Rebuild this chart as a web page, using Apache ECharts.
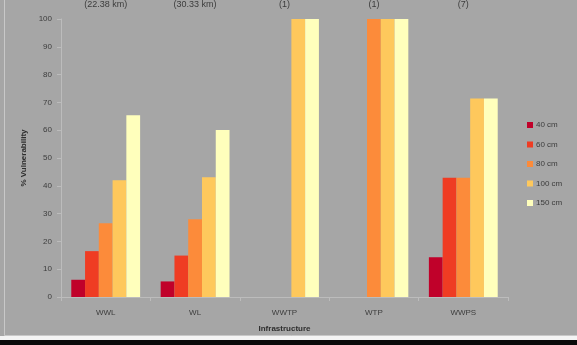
<!DOCTYPE html>
<html>
<head>
<meta charset="utf-8">
<style>
  html, body { margin: 0; padding: 0; background: #a6a6a6; }
  #chart { width: 577px; height: 345px; }
</style>
<script src="https://cdn.jsdelivr.net/npm/echarts@6/dist/echarts.min.js"></script>
</head>
<body>
<div id="chart"></div>
<script>
// Infrastructure categories and the extent/count noted above each group
const categories = ['WWL', 'WL', 'WWTP', 'WTP', 'WWPS'];
const extentLabels = ['(22.38 km)', '(30.33 km)', '(1)', '(1)', '(7)'];

// Scenario names (sea level rise) and % vulnerability per category
const seriesNames = ['40 cm', '60 cm', '80 cm', '100 cm', '150 cm'];
const v40 = [6.2, 5.6, 0, 0, 14.3];
const v60 = [16.5, 14.9, 0, 0, 42.9];
const v80 = [26.5, 28, 0, 100, 42.9];
const v100 = [42, 43.1, 100, 100, 71.4];
const v150 = [65.4, 60.1, 100, 100, 71.4];

const yTicks = { min: 0, max: 100, interval: 10 };

const values = [v40, v60, v80, v100, v150];
const colors = ['#c0012a', '#ef3c23', '#fc8b3a', '#fec85c', '#ffffbc'];

const font = 'Liberation Sans, Arial, sans-serif';
const textColor = '#3c3c3c';

const chart = echarts.init(document.getElementById('chart'), null, { renderer: 'canvas' });

chart.setOption({
  backgroundColor: '#a6a6a6',
  animation: false,
  textStyle: { fontFamily: font },
  grid: { left: 61, right: 69, top: 17, bottom: 48, containLabel: false },
  legend: {
    orient: 'vertical',
    left: 522,
    top: 116,
    itemWidth: 6,
    itemHeight: 6,
    itemGap: 11.5,
    icon: 'rect',
    data: seriesNames,
    textStyle: { fontSize: 8, color: textColor, fontFamily: font, padding: [0, 0, 0, -2] }
  },
  xAxis: [
    {
      type: 'category',
      data: categories,
      name: 'Infrastructure',
      nameLocation: 'middle',
      nameGap: 28,
      nameTextStyle: { fontSize: 8, fontWeight: 'bold', color: '#2e2e2e' },
      axisLine: { lineStyle: { color: '#bcbcbc', width: 1 } },
      axisTick: { show: true, length: 4, lineStyle: { color: '#bcbcbc' } },
      axisLabel: { fontSize: 8, color: textColor, margin: 12 }
    },
    {
      type: 'category',
      data: extentLabels,
      position: 'top',
      axisLine: { show: false },
      axisTick: { show: false },
      axisLabel: { fontSize: 9, color: textColor, margin: 10 }
    }
  ],
  yAxis: {
    type: 'value',
    min: yTicks.min,
    max: yTicks.max,
    interval: yTicks.interval,
    name: '% Vulnerability',
    nameLocation: 'middle',
    nameGap: 31,
    nameRotate: 90,
    nameTextStyle: { fontSize: 8, fontWeight: 'bold', color: '#2e2e2e' },
    axisLine: { show: true, lineStyle: { color: '#bcbcbc', width: 1 } },
    axisTick: { show: true, length: 4, lineStyle: { color: '#bcbcbc' } },
    axisLabel: { fontSize: 8, color: textColor, margin: 9 },
    splitLine: { show: false }
  },
  series: values.map((data, i) => ({
    name: seriesNames[i],
    type: 'bar',
    data: data,
    xAxisIndex: 0,
    barGap: '0%',
    barCategoryGap: '23%',
    itemStyle: { color: colors[i] }
  })),
  graphic: [
    // frame of the chart panel and the strip below it
    {
      type: 'rect',
      silent: true,
      shape: { x: 4.5, y: -5, width: 600, height: 340.5 },
      style: { fill: null, stroke: '#c8c8c8', lineWidth: 1 }
    },
    {
      type: 'rect',
      silent: true,
      shape: { x: 0, y: 336, width: 577, height: 4 },
      style: { fill: '#f4f4f4' }
    },
    {
      type: 'rect',
      silent: true,
      shape: { x: 0, y: 340, width: 577, height: 5 },
      style: { fill: '#0a0a0a' }
    }
  ]
});
</script>
</body>
</html>
